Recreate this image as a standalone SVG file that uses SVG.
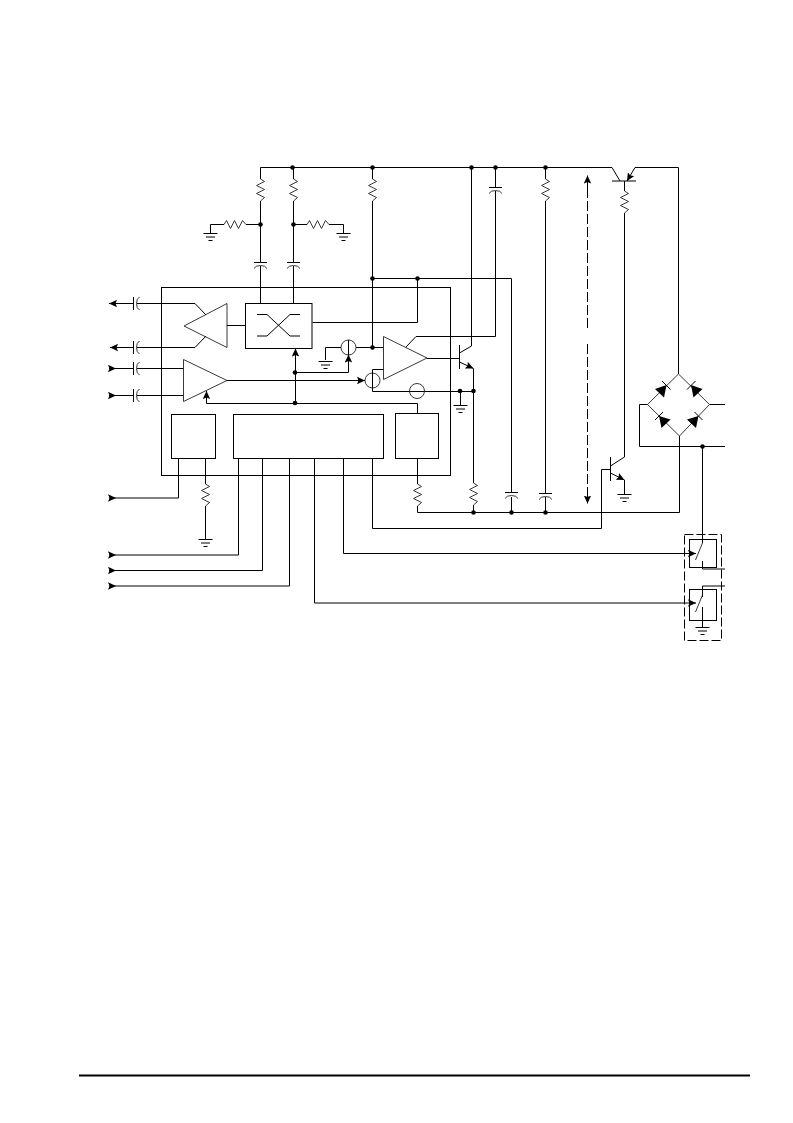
<svg xmlns="http://www.w3.org/2000/svg" xmlns:xlink="http://www.w3.org/1999/xlink" width="793" height="1123" viewBox="0 0 793 1123">
<style>
.w{fill:none;stroke:#000;stroke-width:1}
.t{fill:none;stroke:#222;stroke-width:.9}
.b{fill:#fff;stroke:#000;stroke-width:1}
.n{fill:none;stroke:#000;stroke-width:1}
.d{fill:#000;stroke:none}
.a{fill:none;stroke:#000;stroke-width:1;marker-end:url(#ah)}
.dash{fill:none;stroke:#000;stroke-width:1;stroke-dasharray:10 3}
</style>
<defs>
<marker id="ah" markerUnits="userSpaceOnUse" markerWidth="10" markerHeight="8" refX="8" refY="4" orient="auto">
<path d="M0 .3L8 4L0 7.700L1.500 4Z" fill="#000"/>
</marker>
<path id="rv" class="t" d="M0 0L4 2.500L-4 6.500L4 10.500L-4 14.500L4 18.500L0 22"/>
<path id="rh" class="t" d="M0 0L2.500 -4L6.500 4L10.500 -4L14.500 4L18.500 -4L22 0"/>
<g id="gnd"><path class="n" d="M-7 0H7M-4.500 3.500H4.500M-2 7H2"/></g>
<g id="capv"><path class="n" d="M-6.500 0H6.500"/><path class="t" d="M-6.500 6Q-5 3 0 3Q5 3 6.500 6"/></g>
<g id="caph"><path class="n" d="M0 -6.500V6.500"/><path class="t" d="M6 -6.500Q3 -5 3 0Q3 5 6 6.500"/></g>
<circle id="dot" r="2.300" fill="#000"/>
</defs>
<rect width="793" height="1123" fill="#fff"/>

<g id="connectors">
<path class="w" d="M260.500 167.500H612M260.500 167.500V179M260.500 201V262.500M260.500 266V303.500M293.500 167.500V179M293.500 201V262.500M293.500 266V303.500"/>
<path class="w" d="M260.500 224.500H246M224 224.500H210.500V233M293.500 224.500H307M329 224.500H343.500V233"/>
<path class="w" d="M372.500 167.500V179M372.500 201V347.500M372.500 278.500H511.500V492.500M417.500 278.500V322.500H312.500"/>
<path class="w" d="M471.500 167.500V346L459.500 353M495.500 167.500V187M495.500 191V336.500H416L406 347"/>
<path class="w" d="M545.500 167.500V179M545.500 201V493M545.500 497V512.500M511.500 497V512.500"/>
<path class="w" d="M417.500 458.500V484M417.500 506V512.500H679.500V436M473.500 368.500V483M473.500 505V512.500"/>
<path class="w" d="M205.500 458.500V484M205.500 506V539"/>
<path class="w" d="M178.500 458.500V498H116M238.500 458.500V555H116M262.500 458.500V570.500H116M289.500 458.500V586H116"/>
<path class="a" d="M109 498H116"/><path class="a" d="M109 555H116"/><path class="a" d="M109 570.500H116"/><path class="a" d="M109 586H116"/>
<path class="w" d="M372.500 458.500V528.500H601.500V469.500H610.500"/>
<path class="a" d="M343.500 458.500V553.500H696"/>
<path class="a" d="M314.500 458.500V603H696"/>
<path class="w" d="M227 325.500H245"/>
<path class="a" d="M133 303.500H109"/><path class="a" d="M133 347.500H110"/>
<path class="w" d="M137 303.500H195L206 315M137 347.500H195L206 336"/>
<path class="a" d="M109 368.500H116"/><path class="a" d="M109 395.500H116"/>
<path class="w" d="M116 368.500H133M116 395.500H133M137 368.500H183.500M137 395.500H183.500"/>
<path class="a" d="M227 380.500H365"/>
<path class="a" d="M295.500 403V348.500"/>
<path class="a" d="M295.500 372.500H348.500V354.500"/>
<path class="a" d="M417.500 413.500V403.500H206.500V391"/>
<path class="w" d="M341 347.500H325.500V360M356 347.500H383.500"/>
<path class="w" d="M372.500 373V369.500H383.500M372.500 388V391.500H473.500M460.500 391.500V405"/>
<path class="w" d="M427 358.500H459.500"/>
<path class="w" d="M612 167.500L620 181M635 167.500H678.500V374M624.500 191V181M624.500 213V457L610.500 466"/>
<path class="w" d="M624.500 480V494"/>
<path class="w" d="M647.500 404.500H639.500V446.500H725M709.500 404.500H725M702.500 446.500V543M679.500 446V436"/>
<path class="dash" d="M587.500 328V180"/>
<path class="a" d="M587.500 190V175.500"/>
<path class="dash" d="M587.500 344V498"/>
<path class="a" d="M587.500 490V503.500"/>
</g>

<g id="ic-outline"><rect class="n" x="161.500" y="287.500" width="289" height="188"/></g>

<g id="resistors">
<use href="#rv" xlink:href="#rv" x="260.500" y="179"/>
<use href="#rv" xlink:href="#rv" x="293.500" y="179"/>
<use href="#rv" xlink:href="#rv" x="372.500" y="179"/>
<use href="#rv" xlink:href="#rv" x="545.500" y="179"/>
<use href="#rv" xlink:href="#rv" x="624.500" y="191"/>
<use href="#rv" xlink:href="#rv" x="205.500" y="484"/>
<use href="#rv" xlink:href="#rv" x="417.500" y="484"/>
<use href="#rv" xlink:href="#rv" x="473.500" y="483"/>
<use href="#rh" xlink:href="#rh" x="224" y="224.500"/>
<use href="#rh" xlink:href="#rh" x="307" y="224.500"/>
</g>

<g id="capacitors">
<use href="#capv" xlink:href="#capv" x="260.500" y="262.500"/>
<use href="#capv" xlink:href="#capv" x="293.500" y="262.500"/>
<use href="#capv" xlink:href="#capv" x="495.500" y="187.500"/>
<use href="#capv" xlink:href="#capv" x="511.500" y="492.500"/>
<use href="#capv" xlink:href="#capv" x="545.500" y="493.500"/>
<use href="#caph" xlink:href="#caph" x="133.500" y="303.500"/>
<use href="#caph" xlink:href="#caph" x="133.500" y="347.500"/>
<use href="#caph" xlink:href="#caph" x="133.500" y="368.500"/>
<use href="#caph" xlink:href="#caph" x="133.500" y="395.500"/>
</g>

<g id="grounds">
<use href="#gnd" xlink:href="#gnd" x="210.500" y="233.500"/>
<use href="#gnd" xlink:href="#gnd" x="343.500" y="233.500"/>
<use href="#gnd" xlink:href="#gnd" x="325.500" y="361.500"/>
<use href="#gnd" xlink:href="#gnd" x="460.500" y="405.500"/>
<use href="#gnd" xlink:href="#gnd" x="205.500" y="539.500"/>
<use href="#gnd" xlink:href="#gnd" x="624.500" y="494.500"/>
<use href="#gnd" xlink:href="#gnd" x="702.500" y="627.500"/>
</g>

<g id="mixer-switch"><rect class="b" x="245.500" y="303.500" width="66.500" height="45"/><path class="n" d="M257 314.500H267L290 336H300M257 336H267L290 314.500H300"/></g>
<g id="amp-tx"><path class="t" d="M227 303.500L184 326L227 347.500Z"/></g>
<g id="amp-rx"><path class="t" d="M183.500 359.500V401.500L227 380.500Z"/></g>
<g id="amp-main"><path class="t" d="M383.500 336.500V379.500L427 358Z"/></g>
<g id="block-left"><rect class="n" x="171.500" y="414.500" width="44" height="44"/></g>
<g id="block-center"><rect class="n" x="233.500" y="414.500" width="150" height="44"/></g>
<g id="block-right"><rect class="n" x="395.500" y="413.500" width="43" height="45"/></g>
<g id="circle-a"><circle class="t" cx="348.500" cy="347.500" r="7.500"/><path class="n" d="M348.500 340V355"/></g>
<g id="circle-b"><circle class="t" cx="372.500" cy="380.500" r="7.500"/><path class="n" d="M372.500 373V388"/></g>
<g id="circle-c"><circle class="t" cx="417" cy="391" r="7.500"/></g>

<g id="q1"><path class="n" d="M459.500 345V369"/><path class="a" d="M459.500 362L473.500 368.500"/></g>
<g id="q2"><path class="n" d="M612 181H636"/><path class="a" d="M635 167.500L627 181"/></g>
<g id="q3"><path class="n" d="M610.500 457V481"/><path class="a" d="M610.500 473L624.500 480"/></g>

<g id="bridge">
<path class="t" d="M678.500 374L709.500 404.500L679.500 436L647.500 404.500Z"/>
<path class="d" d="M666.500 385L655 389L664 397.500Z"/><path class="n" d="M662 381L670.500 389.500"/>
<path class="d" d="M691 385L702.500 389L693.500 397.500Z"/><path class="n" d="M687 389.500L695.500 381"/>
<path class="d" d="M659 416L670.500 419.500L661.500 428Z"/><path class="n" d="M655 420L663 412"/>
<path class="d" d="M698.500 416L687 419.500L696 428Z"/><path class="n" d="M694.500 412L702.500 420"/>
</g>

<g id="relay">
<rect x="684.500" y="534.500" width="37" height="106" fill="none" stroke="#000" stroke-dasharray="9 3"/>
<rect class="n" x="689.500" y="539.500" width="27" height="28"/>
<path class="t" d="M702.500 543L695.500 560"/>
<path class="w" d="M702.500 561V569H725"/>
<rect class="n" x="689.500" y="589.500" width="27" height="31"/>
<path class="t" d="M702.500 595L695.500 612"/>
<path class="w" d="M725 586H702.500V597M702.500 607V627"/>
</g>

<g id="junctions">
<use href="#dot" xlink:href="#dot" x="292.500" y="167.500"/>
<use href="#dot" xlink:href="#dot" x="372.500" y="167.500"/>
<use href="#dot" xlink:href="#dot" x="471.500" y="167.500"/>
<use href="#dot" xlink:href="#dot" x="495.500" y="167.500"/>
<use href="#dot" xlink:href="#dot" x="545.500" y="167.500"/>
<use href="#dot" xlink:href="#dot" x="260.500" y="224.500"/>
<use href="#dot" xlink:href="#dot" x="293.500" y="224.500"/>
<use href="#dot" xlink:href="#dot" x="372.500" y="278.500"/>
<use href="#dot" xlink:href="#dot" x="417.500" y="278.500"/>
<use href="#dot" xlink:href="#dot" x="372.500" y="347.500"/>
<use href="#dot" xlink:href="#dot" x="295" y="372.500"/>
<use href="#dot" xlink:href="#dot" x="295" y="403"/>
<use href="#dot" xlink:href="#dot" x="460" y="391"/>
<use href="#dot" xlink:href="#dot" x="473.500" y="391"/>
<use href="#dot" xlink:href="#dot" x="473.500" y="512.500"/>
<use href="#dot" xlink:href="#dot" x="511.500" y="512.500"/>
<use href="#dot" xlink:href="#dot" x="545.500" y="512.500"/>
<use href="#dot" xlink:href="#dot" x="702.500" y="446.500"/>
</g>

<path id="footer-rule" d="M79 1075.500H750" fill="none" stroke="#000" stroke-width="2"/>
</svg>
